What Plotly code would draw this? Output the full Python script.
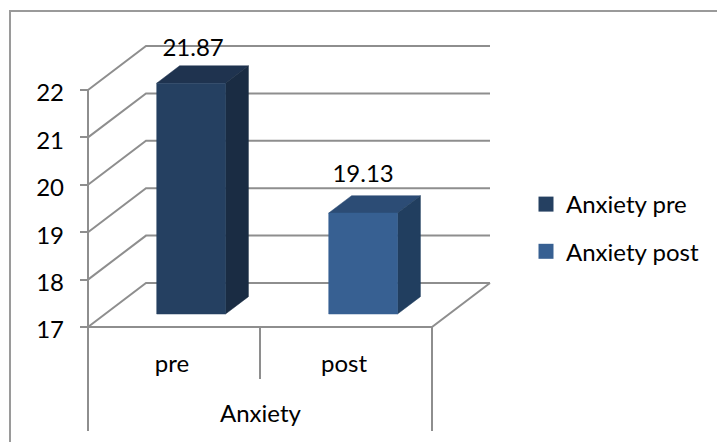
import plotly.graph_objects as go

categories = ["pre", "post"]
group_label = "Anxiety"
series_names = ["Anxiety pre", "Anxiety post"]
values = [21.87, 19.13]
value_ticks = [17, 18, 19, 20, 21, 22]
front_colors = ["#254061", "#376092"]
top_colors = ["#1F334F", "#2C4C75"]
side_colors = ["#1A2C43", "#213E5F"]
label_gaps = [33, 37]

W, H = 717, 442
PX_X, PX_Y = 172.0, 47.4      # pixels per data unit
ORIGIN_X, ORIGIN_Y = 88.0, 327.0  # pixel of (x=0, value=17)
BASE = value_ticks[0]
TOP = value_ticks[-1]
X_MAX = len(categories)
DX, DY = 58 / PX_X, 44 / PX_Y  # oblique offset of the full floor depth
BAR_W = 0.4
D0, D1 = 0.295, 0.69
GRID = "#8E8E8E"
FONT = "Lato, Carlito, 'Open Sans', sans-serif"
FS = 24


def proj(x, v, d):
    return x + d * DX, v + d * DY


fig = go.Figure()


def line(xs, ys, width=2, color=GRID):
    fig.add_trace(go.Scatter(x=xs, y=ys, mode="lines", showlegend=False, hoverinfo="skip",
                             line=dict(color=color, width=width)))


def face(points, color):
    fig.add_trace(go.Scatter(x=[p[0] for p in points] + [points[0][0]],
                             y=[p[1] for p in points] + [points[0][1]],
                             mode="lines", fill="toself", fillcolor=color, showlegend=False,
                             hoverinfo="skip", line=dict(color=color, width=0.5)))


# back-wall gridlines and side-wall diagonals
for v in value_ticks:
    bx, by = proj(0, v, 1)
    ex, ey = proj(X_MAX, v, 1)
    line([0, bx, ex], [v, by, ey])

# floor, left axis and category separators
low = BASE - 104 / PX_Y
sep = BASE - 52 / PX_Y
fx, fy = proj(X_MAX, BASE, 1)
line([0, X_MAX, fx], [BASE, BASE, fy])
line([0, 0], [TOP, low])
line([1, 1], [BASE, sep])
line([X_MAX, X_MAX], [BASE, low])

# 3-D bars
for i, v in enumerate(values):
    x0 = i + 0.5 - BAR_W / 2
    x1 = i + 0.5 + BAR_W / 2
    face([proj(x0, v, D0), proj(x1, v, D0), proj(x1, v, D1), proj(x0, v, D1)], top_colors[i])
    face([proj(x1, BASE, D0), proj(x1, v, D0), proj(x1, v, D1), proj(x1, BASE, D1)], side_colors[i])
    face([proj(x0, BASE, D0), proj(x1, BASE, D0), proj(x1, v, D0), proj(x0, v, D0)], front_colors[i])
    # value label
    lx, ly = proj(i + 0.5, v, D0)
    fig.add_trace(go.Scatter(x=[lx + (2 - i * 2) / PX_X], y=[ly + label_gaps[i] / PX_Y], mode="text",
                             text=[f"{v:.2f}"], textposition="middle center",
                             textfont=dict(size=FS, color="black", family=FONT),
                             showlegend=False, hoverinfo="skip"))

# legend entries
for i, name in enumerate(series_names):
    fig.add_trace(go.Scatter(x=[None], y=[None], mode="markers", name=name, legendgroup=name,
                             marker=dict(symbol="square", size=15, color=front_colors[i])))

# carrier for the value-axis labels, which sit slightly below their ticks
fig.add_trace(go.Scatter(x=[None], y=[None], yaxis="y2", showlegend=False, hoverinfo="skip"))

fig.add_annotation(x=X_MAX / 2, y=BASE - 85.5 / PX_Y, text=group_label, showarrow=False,
                   xref="x", yref="y", font=dict(size=FS, color="black", family=FONT))

fig.add_shape(type="rect", xref="paper", yref="paper", x0=10 / W, x1=1.2,
              y0=-0.2, y1=1 - 11 / H, line=dict(color="#9A9A9A", width=2))

y_range = [BASE - (H - ORIGIN_Y) / PX_Y, BASE + ORIGIN_Y / PX_Y]
LABEL_SHIFT = 3 / PX_Y

fig.update_layout(
    width=W, height=H, autosize=False, margin=dict(l=0, r=0, t=0, b=0),
    paper_bgcolor="white", plot_bgcolor="white",
    font=dict(family=FONT, size=FS, color="black"),
    legend=dict(x=526 / W, y=1 - 182 / H, xanchor="left", yanchor="top", tracegroupgap=13,
                bgcolor="rgba(0,0,0,0)", font=dict(size=FS, color="black", family=FONT)),
    xaxis=dict(range=[-ORIGIN_X / PX_X, (W - ORIGIN_X) / PX_X], domain=[0, 1], showgrid=False,
               zeroline=False, showline=False, tickmode="array",
               tickvals=[i + 0.5 - 2 / PX_X for i in range(len(categories))], ticktext=categories,
               ticks="", anchor="free", position=(H - ORIGIN_Y) / H, ticklabelstandoff=20,
               tickfont=dict(size=FS, color="black", family=FONT)),
    yaxis=dict(range=y_range, domain=[0, 1],
               showgrid=False, zeroline=False, showline=False, tickmode="array",
               tickvals=value_ticks, showticklabels=False,
               ticks="outside", ticklen=8, tickwidth=2, tickcolor=GRID,
               anchor="free", position=ORIGIN_X / W),
    yaxis2=dict(range=[y_range[0] + LABEL_SHIFT, y_range[1] + LABEL_SHIFT], domain=[0, 1],
                overlaying="y", showgrid=False, zeroline=False, showline=False, tickmode="array",
                tickvals=value_ticks, ticktext=[str(t) for t in value_ticks], ticks="",
                anchor="free", position=ORIGIN_X / W, ticklabelstandoff=24,
                tickfont=dict(size=FS, color="black", family=FONT)),
)
fig.write_html("out.html", config={"displayModeBar": False},
               post_script="document.body.style.margin='0';document.documentElement.style.overflow='hidden';")
